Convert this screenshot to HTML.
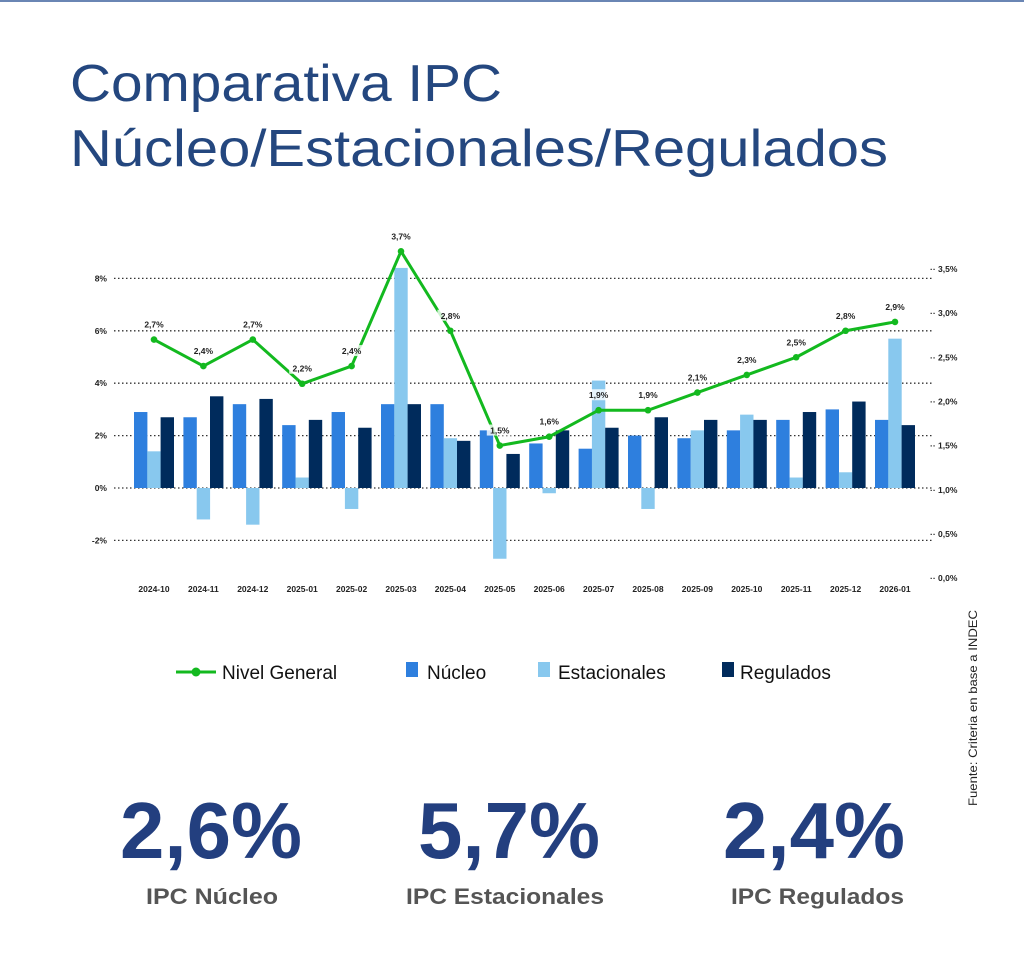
<!DOCTYPE html>
<html><head><meta charset="utf-8"><style>
html,body{margin:0;padding:0;background:#fff;}
svg{display:block;font-family:"Liberation Sans",sans-serif;}
</style></head><body>
<svg width="1024" height="953" viewBox="0 0 1024 953" xmlns="http://www.w3.org/2000/svg">
<rect x="0" y="0" width="1024" height="2" fill="#6a86b4"/>
<text x="70" y="101" font-size="52" fill="#24477f" textLength="432" lengthAdjust="spacingAndGlyphs">Comparativa IPC</text>
<text x="70" y="166" font-size="52" fill="#24477f" textLength="818" lengthAdjust="spacingAndGlyphs">Núcleo/Estacionales/Regulados</text>
<g id="grid" stroke="#333" stroke-width="1.3" stroke-dasharray="1.5,2.5"></g>
<g id="bars"></g>
<g id="ax" font-size="8.5" font-weight="bold" fill="#222"></g>
<g id="line"></g>
<g font-size="19" fill="#111">
<line x1="176" y1="672" x2="216" y2="672" stroke="#13b91f" stroke-width="3"/>
<circle cx="196" cy="672" r="4.5" fill="#13b91f"/>
<text x="222" y="679">Nivel General</text>
<rect x="406" y="662" width="12" height="15" fill="#2e7fde"/>
<text x="427" y="679">Núcleo</text>
<rect x="538" y="662" width="12" height="15" fill="#88c8ee"/>
<text x="558" y="679">Estacionales</text>
<rect x="722" y="662" width="12" height="15" fill="#002b5c"/>
<text x="740" y="679">Regulados</text>
</g>
<text transform="translate(977,806) rotate(-90)" font-size="12" fill="#222" textLength="196" lengthAdjust="spacingAndGlyphs">Fuente: Criteria en base a INDEC</text>
<g font-weight="bold" fill="#233f7f" font-size="80">
<text x="120" y="858" textLength="182" lengthAdjust="spacingAndGlyphs">2,6%</text>
<text x="418" y="858" textLength="182" lengthAdjust="spacingAndGlyphs">5,7%</text>
<text x="723" y="858" textLength="182" lengthAdjust="spacingAndGlyphs">2,4%</text>
</g>
<g font-weight="bold" fill="#555" font-size="22">
<text x="146" y="904" textLength="132" lengthAdjust="spacingAndGlyphs">IPC Núcleo</text>
<text x="406" y="904" textLength="198" lengthAdjust="spacingAndGlyphs">IPC Estacionales</text>
<text x="731" y="904" textLength="173" lengthAdjust="spacingAndGlyphs">IPC Regulados</text>
</g>
<script>
var NS="http://www.w3.org/2000/svg";
function el(p,t,a,tx){var e=document.createElementNS(NS,t);for(var k in a)e.setAttribute(k,a[k]);if(tx!=null)e.textContent=tx;document.getElementById(p).appendChild(e);return e;}
var z=488,s=26.2;
[8,6,4,2,0,-2].forEach(function(v){var y=z-v*s;el("grid","line",{x1:114,y1:y,x2:933,y2:y});el("ax","text",{x:107,y:y+3,"text-anchor":"end"},v+"%");});
["3,5%","3,0%","2,5%","2,0%","1,5%","1,0%","0,5%","0,0%"].forEach(function(t,i){var y=269+i*44.15;el("ax","text",{x:930,y:y+3},"·· "+t);});
var cats=["2024-10","2024-11","2024-12","2025-01","2025-02","2025-03","2025-04","2025-05","2025-06","2025-07","2025-08","2025-09","2025-10","2025-11","2025-12","2026-01"];
var N=[2.9,2.7,3.2,2.4,2.9,3.2,3.2,2.2,1.7,1.5,2.0,1.9,2.2,2.6,3.0,2.6];
var E=[1.4,-1.2,-1.4,0.4,-0.8,8.4,1.9,-2.7,-0.2,4.1,-0.8,2.2,2.8,0.4,0.6,5.7];
var R=[2.7,3.5,3.4,2.6,2.3,3.2,1.8,1.3,2.2,2.3,2.7,2.6,2.6,2.9,3.3,2.4];
var L=[2.7,2.4,2.7,2.2,2.4,3.7,2.8,1.5,1.6,1.9,1.9,2.1,2.3,2.5,2.8,2.9];
var pts=[];
cats.forEach(function(c,i){var cx=154+i*49.4;
 [[N,"#2e7fde",-20],[E,"#88c8ee",-6.7],[R,"#002b5c",6.6]].forEach(function(d){var v=d[0][i];var y=v>=0?z-v*s:z;el("bars","rect",{x:cx+d[2],y:y,width:13.4,height:Math.abs(v)*s,fill:d[1]});});
 el("ax","text",{x:cx,y:592,"text-anchor":"middle"},c);
 var ly=578-L[i]*88.3;pts.push(cx+","+ly);
});
el("line","polyline",{points:pts.join(" "),fill:"none",stroke:"#13b91f","stroke-width":3,"stroke-linejoin":"round"});
cats.forEach(function(c,i){var cx=154+i*49.4,ly=578-L[i]*88.3;el("line","circle",{cx:cx,cy:ly,r:3.3,fill:"#13b91f"});
 el("line","rect",{x:cx-13,y:ly-21,width:26,height:11,fill:"#fff","fill-opacity":"0.8"});
 el("line","text",{x:cx,y:ly-12,"text-anchor":"middle","font-size":"8.5","font-weight":"bold",fill:"#222"},String(L[i]).replace(".",",")+"%");});
</script>
</svg>
</body></html>
